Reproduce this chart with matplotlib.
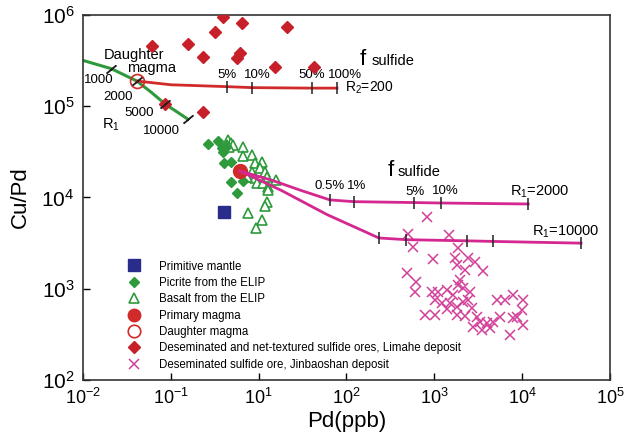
import numpy as np
import matplotlib.pyplot as plt
from matplotlib.ticker import FixedLocator, NullLocator

plt.rcParams['font.family'] = ['Liberation Sans', 'DejaVu Sans']

# --- data (Pd in ppb, Cu/Pd ratio) ---
mantle_pd = [4.03]
mantle_cupd = [6930]

picrite_pd = [2.65, 3.44, 3.83, 3.93, 4.25, 4.03, 4.84, 4.84, 6.64, 5.66]
picrite_cupd = [38500, 41600, 34800, 31500, 35700, 23900, 24500, 14800, 15200, 11200]

basalt_pd = [4.48, 4.84, 4.36, 5.10, 4.59, 6.64, 6.64, 8.40, 9.08, 10.9, 10.4, 8.40, 11.8,
             12.4, 9.08, 9.57, 11.2, 12.8, 7.36, 15.7, 12.8, 12.4, 11.8, 7.56, 10.9, 9.33]
basalt_cupd = [42700, 39500, 37600, 37600, 35700, 35700, 28500, 29200, 23900, 24500, 21000,
               19000, 19000, 16800, 16400, 14400, 14400, 13000, 16800, 15600, 12100, 8930,
               8070, 6760, 5660, 4630]

primary_pd = [6.13]
primary_cupd = [19500]
daughter_pd = [0.41]
daughter_cupd = [189000]

limahe_pd = [3.93, 6.46, 3.18, 21.0, 0.61, 1.57, 2.32, 6.13, 5.66, 15.3, 42.7, 2.32, 0.86]
limahe_cupd = [950000, 817000, 651000, 739000, 457000, 481000, 347000, 384000, 338000,
               269000, 269000, 86500, 106000]

jinbao_pd = [826, 501, 572, 1469, 1862, 966, 1718, 2415, 1811, 2904, 2234, 3581, 489, 618,
             603, 942, 1102, 1393, 1862, 1960, 2123, 2547, 1633, 1018, 1222, 1510, 1811,
             2123, 2415, 2685, 1393, 1811, 783, 1018, 2234, 3062, 3311, 2754, 3491, 4305,
             5176, 6383, 7870, 10230, 5598, 7870, 8730, 9954, 10230, 7278, 4656, 3981]
jinbao_cupd = [6110, 3981, 2871, 3882, 2799, 2118, 2173, 2173, 1820, 1963, 1604, 1566, 1488,
               1186, 921, 921, 921, 968, 1099, 1247, 1019, 921, 855, 753, 698, 698, 631, 716,
               753, 615, 600, 515, 515, 515, 502, 490, 432, 381, 353, 372, 753, 753, 855,
               753, 490, 478, 490, 585, 401, 311, 432, 422]

# R1 curve (daughter magma evolution)
r1_pd = [0.1, 0.21, 0.41, 0.6, 0.86, 1.57]
r1_cupd = [318000, 258000, 189000, 142000, 106000, 72000]
r1_tick_pd = [0.21, 0.41, 0.86, 1.57]
r1_tick_cupd = [258000, 189000, 106000, 72000]
r1_tick_labels = ['1000', '2000', '5000', '10000']

# R2 = 200 mixing line
r2_pd = [0.41, 1.0, 4.36, 8.4, 40.5, 78]
r2_cupd = [189000, 172000, 164000, 160000, 158000, 158000]
r2_tick_pd = [4.36, 8.4, 40.5, 78]
r2_tick_cupd = [163000, 160000, 158000, 158000]
r2_tick_labels = ['5%', '10%', '50%', '100%']

# R1 = 2000 and R1 = 10000 mixing lines
m2000_pd = [6.13, 14, 30, 64.9, 122, 587, 1190, 11700]
m2000_cupd = [19500, 15500, 12000, 9400, 9000, 8800, 8700, 8490]
m2000_tick_pd = [64.9, 122, 587, 1190, 11700]
m2000_tick_cupd = [9400, 9000, 8800, 8700, 8490]
f_labels = ['0.5%', '1%', '5%', '10%']

m10000_pd = [6.13, 18, 60, 234, 475, 2350, 4660, 46800]
m10000_cupd = [19500, 12000, 6500, 3600, 3450, 3350, 3300, 3160]
m10000_tick_pd = [234, 475, 2350, 4660, 46800]
m10000_tick_cupd = [3600, 3450, 3350, 3300, 3160]

xtick_vals = [0.1, 1, 10, 100, 1000, 10000, 100000]
xtick_labels = ['-2', '-1', '1', '2', '3', '4', '5']
ytick_vals = [100, 1000, 10000, 100000, 1000000]

red = '#d12a2a'
green = '#2e9a3c'
magenta = '#d42790'
blue = '#2a2c8c'
tickc = '#222222'

fig = plt.figure(figsize=(6.33, 4.4), dpi=100)
ax = fig.add_axes([0.1311, 0.1364, 0.8325, 0.8295])
ax.set_xscale('log')
ax.set_yscale('log')
ax.set_xlim(0.1, 1e5)
ax.set_ylim(1e2, 1e6)

# curves
ax.plot(r1_pd, r1_cupd, color=green, lw=2.2, zorder=2)
ax.plot(r1_tick_pd, r1_tick_cupd, ls='none', marker=(2, 2, -50), ms=9, mew=1.1,
        color=tickc, zorder=5)
ax.plot(r2_pd, r2_cupd, color=red, lw=2, zorder=2)
ax.plot(r2_tick_pd, r2_tick_cupd, ls='none', marker='|', ms=8, mew=1.1, color=tickc, zorder=3)

# points
ax.plot(mantle_pd, mantle_cupd, 's', color=blue, ms=9, ls='none', label='Primitive mantle', zorder=4)
ax.plot(picrite_pd, picrite_cupd, 'D', color=green, ms=5.5, ls='none',
        label='Picrite from the ELIP', zorder=4)
ax.plot(basalt_pd, basalt_cupd, '^', mfc='white', mec=green, mew=1.2, ms=7.5, ls='none',
        label='Basalt from the ELIP', zorder=3)
ax.plot(primary_pd, primary_cupd, 'o', color=red, ms=10, ls='none', label='Primary magma', zorder=4)
ax.plot(daughter_pd, daughter_cupd, 'o', mfc='none', mec=red, mew=1.2, ms=10, ls='none',
        label='Daughter magma', zorder=4)
ax.plot(limahe_pd, limahe_cupd, 'D', color='#c8202a', ms=6.5, ls='none',
        label='Deseminated and net-textured sulfide ores, Limahe deposit', zorder=4)
ax.plot(jinbao_pd, jinbao_cupd, 'x', color='#d2409a', ms=7.5, mew=1.1, ls='none',
        label='Deseminated sulfide ore, Jinbaoshan deposit', zorder=3)

ax.plot(m2000_pd, m2000_cupd, color=magenta, lw=2, zorder=5)
ax.plot(m10000_pd, m10000_cupd, color=magenta, lw=2, zorder=5)
ax.plot(m2000_tick_pd, m2000_tick_cupd, ls='none', marker='|', ms=8, mew=1.1, color=tickc, zorder=6)
ax.plot(m10000_tick_pd, m10000_tick_cupd, ls='none', marker='|', ms=8, mew=1.1, color=tickc, zorder=6)

# annotations
fs = 9.5
ax.text(0.173, 364000, 'Daughter', fontsize=10.5, va='center')
ax.text(0.317, 263000, 'magma', fontsize=10.5, va='center')
r1_lab_pd = [0.103, 0.169, 0.30, 0.48]
r1_lab_cupd = [194000, 126000, 84000, 53600]
for xv, yv, t in zip(r1_lab_pd, r1_lab_cupd, r1_tick_labels):
    ax.text(xv, yv, t, fontsize=fs, va='center')
ax.text(0.165, 62000, r'$\mathregular{R_1}$', fontsize=10.5, va='center')

for xv, t in zip([4.36, 9.57, 40.5, 96], r2_tick_labels):
    ax.text(xv, 220000, t, fontsize=fs, ha='center', va='center')
ax.text(143, 283000, 'f', fontsize=16, va='baseline')
ax.text(195, 283000, 'sulfide', fontsize=10.5, va='baseline')
ax.text(96, 158000, r'$\mathregular{R_2}$=200', fontsize=10, va='center')

for xv, yv, t in zip([64.9, 130, 603, 1324], [13400, 13400, 11500, 11800], f_labels):
    ax.text(xv, yv, t, fontsize=fs, ha='center', va='center')
ax.text(297, 17200, 'f', fontsize=16, va='baseline')
ax.text(386, 17200, 'sulfide', fontsize=10.5, va='baseline')
ax.text(7280, 11500, r'$\mathregular{R_1}$=2000', fontsize=10.5, va='center')
ax.text(12900, 4190, r'$\mathregular{R_1}$=10000', fontsize=10.5, va='center')

# axes styling
ax.xaxis.set_major_locator(FixedLocator(xtick_vals))
ax.xaxis.set_minor_locator(NullLocator())
ax.set_xticklabels([r'$\mathregular{10^{%s}}$' % e for e in xtick_labels], fontsize=13)
ax.yaxis.set_major_locator(FixedLocator(ytick_vals))
ax.yaxis.set_minor_locator(NullLocator())
ax.set_yticklabels([r'$\mathregular{10^{%d}}$' % e for e in [2, 3, 4, 5, 6]], fontsize=15)
ax.tick_params(direction='in', length=5, width=1, pad=6)
for s in ax.spines.values():
    s.set_linewidth(1.2)
    s.set_color('#333333')

ax.set_xlabel('Pd(ppb)', fontsize=16, labelpad=2)
ax.set_ylabel('Cu/Pd', fontsize=16, labelpad=8)

ax.legend(loc='upper left', bbox_to_anchor=(0.075, 0.34), frameon=False, fontsize=8.3,
          handlelength=1.2, handletextpad=1.6, labelspacing=0.38, borderaxespad=0,
          markerscale=0.9)

fig.savefig('out.png', dpi=100)
